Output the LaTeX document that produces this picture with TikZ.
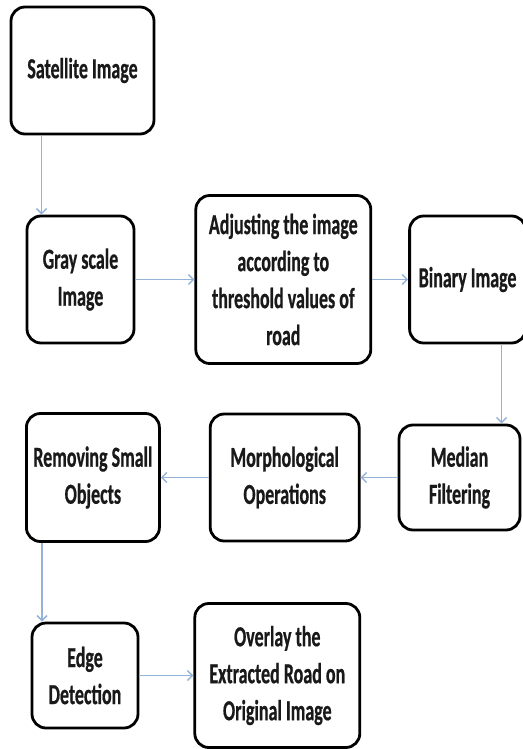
\documentclass[tikz,border=0pt]{standalone}
\usepackage{fontspec}
\setmainfont{Carlito}[FakeStretch=0.62, BoldFeatures={FakeBold=0.6}]
\usepackage{tikz}
\usetikzlibrary{arrows.meta, positioning}
\definecolor{arrowblue}{RGB}{149,179,215}

\begin{document}
\begin{tikzpicture}[
  node distance=40pt,
  stage/.style={draw, line width=2.8pt, rounded corners=14pt, inner sep=0pt,
                align=center, text=black!90,
                font=\bfseries\fontsize{29}{37}\selectfont},
  arr/.style={-{Straight Barb[length=5pt, width=10pt]}, line width=1.5pt,
              color=arrowblue},
]
\useasboundingbox (0,0) rectangle (522pt,-749pt);

% Top row
\node[stage, minimum width=143pt, minimum height=127pt] (sat) at (82.5pt,-70.5pt) {Satellite Image};
\node[stage, minimum width=107pt, minimum height=127pt] (gray) at (80.5pt,-279.5pt) {Gray scale\\Image};
\node[stage, minimum width=175pt, minimum height=168pt, right=59pt of gray] (adjust)
  {Adjusting the image\\according to\\threshold values of\\road};
\node[stage, minimum width=116pt, minimum height=127pt, right=36pt of adjust] (binary) {Binary Image};

% Middle row
\node[stage, minimum width=121pt, minimum height=105pt] (median) at (459.5pt,-477.5pt) {Median\\Filtering};
\node[stage, minimum width=149pt, minimum height=127pt, left=37pt of median] (morph) {Morphological\\Operations};
\node[stage, minimum width=133pt, minimum height=128pt, left=48pt of morph] (remove) {Removing Small\\Objects};

% Bottom row
\node[stage, minimum width=106pt, minimum height=105pt] (edge) at (85pt,-675.5pt) {Edge\\Detection};
\node[stage, minimum width=165pt, minimum height=144pt, right=54pt of edge] (overlay)
  {Overlay the\\Extracted Road on\\Original Image};

% Arrows
\coordinate (s1) at ([xshift=32pt]sat.south west);
\coordinate (b1) at ([xshift=34pt]binary.south);
\coordinate (r1) at ([xshift=17pt]remove.south west);
\draw[arr] (s1) -- (s1 |- gray.north);
\draw[arr] (gray) -- (adjust);
\draw[arr] (adjust) -- (binary);
\draw[arr] (b1) -- (b1 |- median.north);
\draw[arr] (median) -- (morph);
\draw[arr] (morph) -- (remove);
\draw[arr] (r1) -- (r1 |- edge.north);
\draw[arr] (edge) -- (overlay);

\end{tikzpicture}
\end{document}
